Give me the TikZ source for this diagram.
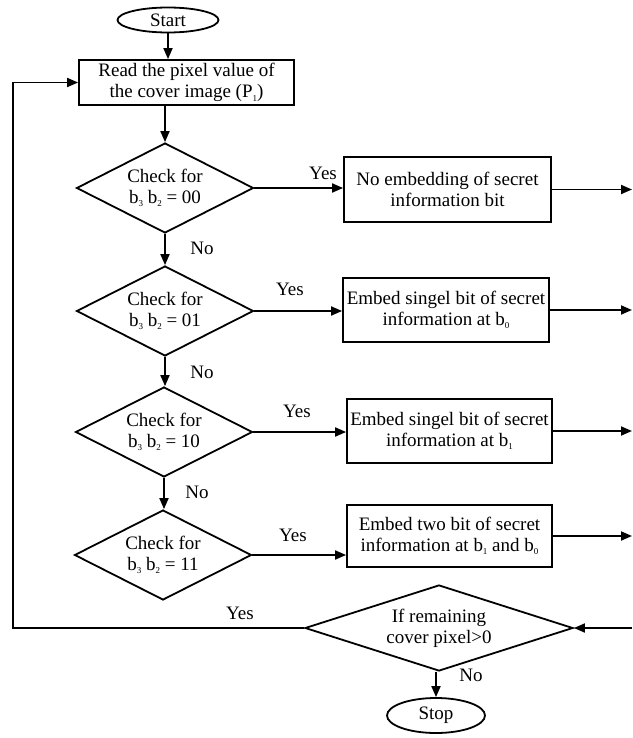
\documentclass[tikz,border=0pt]{standalone}
\usepackage{fontspec}
\setmainfont{Liberation Serif}
\usetikzlibrary{shapes.geometric,arrows.meta}
\newcommand\lowsub[1]{\raisebox{-3.5pt}{\fontsize{9}{9}\selectfont #1}}
\begin{document}
\begin{tikzpicture}[x=1pt,y=-1pt,
  every node/.style={font=\fontsize{19}{21}\selectfont},
  base/.style={draw,line width=1.8pt,inner sep=0pt,align=center},
  term/.style={base,ellipse},
  proc/.style={base,rectangle},
  deci/.style={base,diamond,aspect=2,minimum width=177pt,minimum height=90pt},
  conn/.style={line width=1.8pt},
  arr/.style={conn,-{Triangle[length=11pt,width=9pt]}},
  lbl/.style={inner sep=0pt}]
\useasboundingbox (0,0) rectangle (632,738);

\node[term,minimum width=101pt,minimum height=25pt] (start) at (168,20) {Start};
\node[proc,minimum width=215pt,minimum height=45pt] (read) at (186.5,82.5) {Read the pixel value of\\the cover image (P\lowsub{1})};

\node[deci] (d1) at (165,188) {Check for\\b\lowsub{3} b\lowsub{2} = 00};
\node[deci] (d2) at (165,311) {Check for\\b\lowsub{3} b\lowsub{2} = 01};
\node[deci] (d3) at (164,432) {Check for\\b\lowsub{3} b\lowsub{2} = 10};
\node[deci] (d4) at (163,555) {Check for\\b\lowsub{3} b\lowsub{2} = 11};

\node[proc,minimum width=207pt,minimum height=65pt] (b1) at (447.5,189.5) {No embedding of secret\\information bit};
\node[proc,minimum width=206pt,minimum height=64pt] (b2) at (446,310) {Embed singel bit of secret\\information at b\lowsub{0}};
\node[proc,minimum width=205pt,minimum height=64pt] (b3) at (449.5,431) {Embed singel bit of secret\\information at b\lowsub{1}};
\node[proc,minimum width=205pt,minimum height=62pt] (b4) at (449.5,536) {Embed two bit of secret\\information at b\lowsub{1} and b\lowsub{0}};

\node[base,diamond,aspect=3.1,minimum width=268pt,minimum height=86pt] (cond) at (439,628) {If remaining\\cover pixel>0};
\node[term,minimum width=98pt,minimum height=35pt] (stop) at (436,715.5) {Stop};

\coordinate (r1) at (632,189.5);
\coordinate (r2) at (632,310);
\coordinate (r3) at (632,431);
\coordinate (r4) at (632,536);
\coordinate (rc) at (632,628);
\coordinate (lc) at (13,628);

% main flow
\draw[arr] (start.south) -- (start.south |- read.north);
\draw[arr] (read.south -| d1.north) -- (d1.north);
\draw[arr] (d1.south) -- (d2.north);
\draw[arr] (d2.south) -- (d2.south |- d3.north);
\draw[arr] (d3.south) -- (d3.south |- d4.north);
\draw[arr] (cond.south -| stop.north) -- (stop.north);

% yes branches
\draw[arr] (d1.east) -- (d1.east -| b1.west);
\draw[arr] (d2.east) -- (d2.east -| b2.west);
\draw[arr] (d3.east) -- (d3.east -| b3.west);
\draw[arr] (d4.east) -- (d4.east -| b4.west);

% outputs to the right
\draw[arr] (b1.east) -- (r1);
\draw[arr] (b2.east) -- (r2);
\draw[arr] (b3.east) -- (r3);
\draw[arr] (b4.east) -- (r4);
\draw[arr] (rc) -- (cond.east);

% loop back
\draw[arr] (cond.west) -- (lc) |- (read.west);

% labels
\node[lbl] at (323,173) {Yes};
\node[lbl] at (290,289) {Yes};
\node[lbl] at (297,411) {Yes};
\node[lbl] at (293,535) {Yes};
\node[lbl] at (240,613) {Yes};
\node[lbl] at (202,248) {No};
\node[lbl] at (202,372) {No};
\node[lbl] at (197,492) {No};
\node[lbl] at (471,675) {No};
\end{tikzpicture}
\end{document}
